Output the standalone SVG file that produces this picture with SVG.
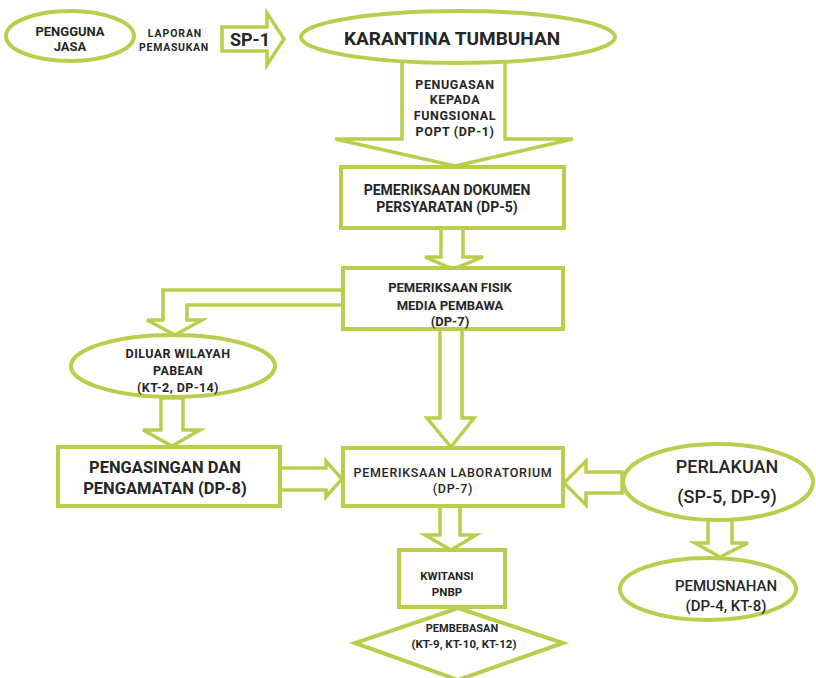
<svg xmlns="http://www.w3.org/2000/svg" width="816" height="678" viewBox="0 0 816 678">
<style>
.sh{fill:#fff;stroke:#bccd4e;stroke-width:4;stroke-linejoin:miter}
.ar{fill:#fff;stroke:#bccd4e;stroke-width:3.5;stroke-linejoin:miter}
text{font-family:Roboto,"Liberation Sans",Arial,sans-serif;fill:#262626;text-anchor:middle}
.b{font-weight:bold}
.m{font-weight:500}
</style>
<rect width="816" height="678" fill="#fff"/>
<g id="connectors">
<polygon class="ar" points="441,228 463,228 463,257 483,257 453,269 425,257 441,257"/>
<polygon class="ar" points="343,290 163,290 163,320 147,320 175,335 202,320 187,320 187,305 343,305"/>
<polygon class="ar" points="440,329 462,329 462,418 474,418 451,447 427,418 440,418"/>
<polygon class="ar" points="161,398 183,398 183,430 200,430 172,446 143,430 161,430"/>
<polygon class="ar" points="280,468 326,468 326,461 342,479 326,497 326,490 280,490"/>
<polygon class="ar" points="622,472 586,472 586,461 564,483 586,505 586,493 622,493"/>
<polygon class="ar" points="440,506 460,506 460,535 476,535 451,550 425,535 440,535"/>
<polygon class="ar" points="708,519 732,519 732,543 748,543 720,557 695,543 708,543"/>
</g>
<g id="sp1">
<polygon class="ar" points="222,27 267,27 267,13 284,39 267,65 267,51 222,51"/>
<text class="b" x="250" y="46" font-size="18">SP-1</text>
<text class="b" x="175" y="37" font-size="10.5" letter-spacing="0.9">LAPORAN</text>
<text class="b" x="174" y="51" font-size="10.5" letter-spacing="0.7">PEMASUKAN</text>
</g>
<g id="pengguna">
<ellipse class="sh" cx="70" cy="36" rx="64" ry="25"/>
<text class="b" x="70" y="36" font-size="13">PENGGUNA</text>
<text class="b" x="70" y="51" font-size="13">JASA</text>
</g>
<g id="penugasan">
<polygon class="ar" points="402,58 505,58 505,139 573,139 455,166 335,139 402,139"/>
<text class="b" x="455" y="89" font-size="12.5" letter-spacing="0.6">PENUGASAN</text>
<text class="b" x="455" y="104" font-size="12.5" letter-spacing="0.6">KEPADA</text>
<text class="b" x="455" y="120" font-size="12.5" letter-spacing="0.6">FUNGSIONAL</text>
<text class="b" x="455" y="136" font-size="12.5" letter-spacing="0.6">POPT (DP-1)</text>
</g>
<g id="karantina">
<ellipse class="sh" cx="458" cy="37" rx="157" ry="26"/>
<text class="b" x="452" y="45" font-size="19">KARANTINA TUMBUHAN</text>
</g>
<g id="dokumen">
<rect class="sh" x="341" y="167" width="223" height="61"/>
<text class="b" x="447" y="195" font-size="14">PEMERIKSAAN DOKUMEN</text>
<text class="b" x="447" y="212" font-size="14">PERSYARATAN (DP-5)</text>
</g>
<g id="fisik">
<rect class="sh" x="343" y="268" width="220" height="61"/>
<text class="b" x="450" y="292" font-size="13">PEMERIKSAAN FISIK</text>
<text class="b" x="450" y="310" font-size="13">MEDIA PEMBAWA</text>
<text class="b" x="450" y="326" font-size="13">(DP-7)</text>
</g>
<g id="diluar">
<ellipse class="sh" cx="173" cy="366" rx="102" ry="31"/>
<text class="b" x="178" y="358" font-size="12.5" letter-spacing="0.4">DILUAR WILAYAH</text>
<text class="b" x="178" y="375" font-size="12.5" letter-spacing="0.4">PABEAN</text>
<text class="b" x="178" y="392" font-size="12.5" letter-spacing="0.4">(KT-2, DP-14)</text>
</g>
<g id="pengasingan">
<rect class="sh" x="58" y="447" width="222" height="59"/>
<text class="b" x="165" y="473" font-size="16.5">PENGASINGAN DAN</text>
<text class="b" x="165" y="494" font-size="16.5">PENGAMATAN (DP-8)</text>
</g>
<g id="lab">
<rect class="sh" x="343" y="448" width="220" height="58"/>
<text class="m" x="453" y="477" font-size="12.5" letter-spacing="0.7">PEMERIKSAAN LABORATORIUM</text>
<text class="m" x="453" y="493" font-size="12.5" letter-spacing="0.7">(DP-7)</text>
</g>
<g id="perlakuan">
<ellipse class="sh" cx="718" cy="482" rx="95" ry="38"/>
<text class="m" x="727" y="473" font-size="18">PERLAKUAN</text>
<text class="m" x="727" y="503" font-size="18">(SP-5, DP-9)</text>
</g>
<g id="pemusnahan">
<ellipse class="sh" cx="708" cy="589" rx="88" ry="31"/>
<text class="m" x="726" y="591" font-size="15">PEMUSNAHAN</text>
<text class="m" x="726" y="611" font-size="15">(DP-4, KT-8)</text>
</g>
<g id="kwitansi">
<rect class="sh" x="399" y="550" width="106" height="57"/>
<text class="b" x="447" y="580" font-size="11.5">KWITANSI</text>
<text class="b" x="447" y="596" font-size="11.5">PNBP</text>
</g>
<g id="pembebasan">
<polygon class="sh" points="458,608 563,643 458,680 355,643"/>
<text class="b" x="462" y="632" font-size="11">PEMBEBASAN</text>
<text class="b" x="464" y="648" font-size="11.5">(KT-9, KT-10, KT-12)</text>
</g>
</svg>
